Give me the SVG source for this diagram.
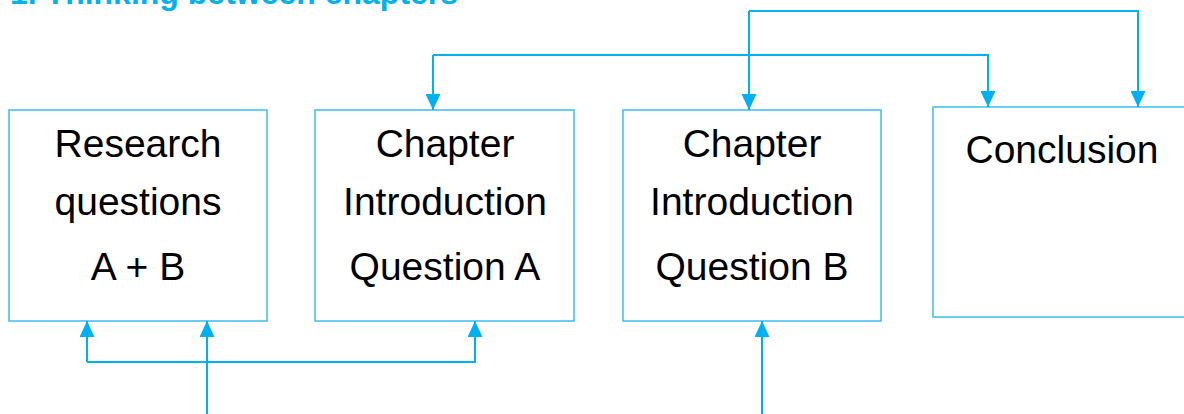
<svg xmlns="http://www.w3.org/2000/svg" width="1184" height="414" viewBox="0 0 1184 414">
<style>
.box{fill:#fff;stroke:#3DBDEF;stroke-width:1.5}
.lbl{font-family:"Liberation Sans",Arial,sans-serif;font-size:39px;fill:#000;text-anchor:middle}
.con{fill:none;stroke:#00B0F0;stroke-width:2}
.title{font-family:"Liberation Sans",Arial,sans-serif;font-weight:bold;font-size:32px;fill:#00B0F0}
</style>
<defs>
<marker id="ah" viewBox="0 0 16 15" refX="16" refY="7.5" markerWidth="16" markerHeight="15" markerUnits="userSpaceOnUse" orient="auto">
<path d="M0,0 L16,7.5 L0,15 Z" fill="#00B0F0"/>
</marker>
</defs>
<text class="title" x="10" y="4">1. Thinking between chapters</text>
<g id="n1"><rect class="box" x="9" y="110" width="258" height="211"/>
<text class="lbl" x="138" y="157">Research</text><text class="lbl" x="138" y="215">questions</text><text class="lbl" x="138" y="280">A + B</text></g>
<g id="n2"><rect class="box" x="315" y="110" width="259" height="211"/>
<text class="lbl" x="445" y="157">Chapter</text><text class="lbl" x="445" y="215">Introduction</text><text class="lbl" x="445" y="280">Question A</text></g>
<g id="n3"><rect class="box" x="623" y="110" width="258" height="211"/>
<text class="lbl" x="752" y="157">Chapter</text><text class="lbl" x="752" y="215">Introduction</text><text class="lbl" x="752" y="280">Question B</text></g>
<g id="n4"><rect class="box" x="933" y="107" width="258" height="210"/>
<text class="lbl" x="1062" y="163">Conclusion</text></g>
<g id="connectors">
<path class="con" d="M433,55 H988 V107" marker-end="url(#ah)"/>
<path class="con" d="M433,55 V110" marker-end="url(#ah)"/>
<path class="con" d="M749,11 H1138 V107" marker-end="url(#ah)"/>
<path class="con" d="M749,11 V110" marker-end="url(#ah)"/>
<path class="con" d="M87,362 H475 V321" marker-end="url(#ah)"/>
<path class="con" d="M87,362 V321" marker-end="url(#ah)"/>
<path class="con" d="M207,414 V321" marker-end="url(#ah)"/>
<path class="con" d="M762,414 V321" marker-end="url(#ah)"/>
</g>
</svg>
